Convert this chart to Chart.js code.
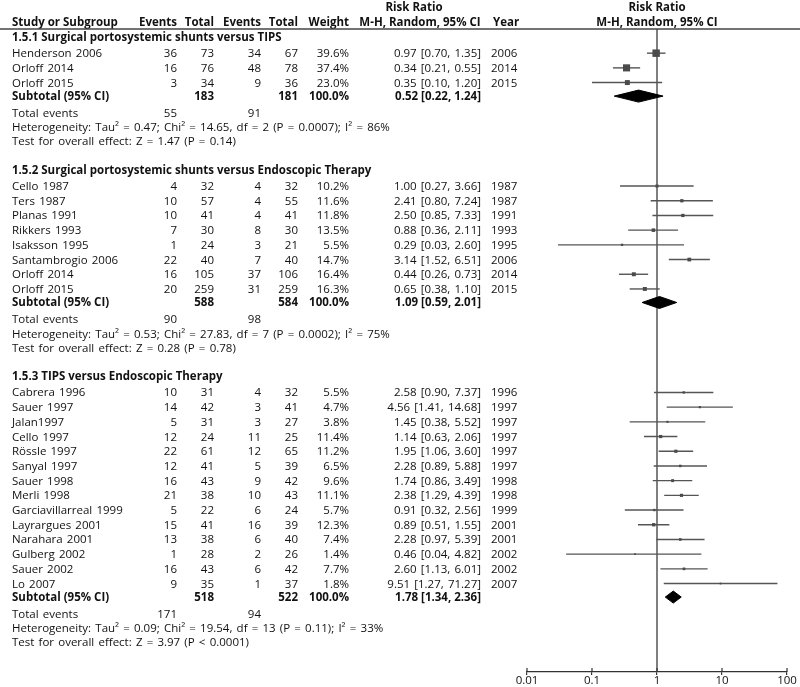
<!DOCTYPE html>
<html>
<head>
<meta charset="utf-8">
<script src="https://cdn.jsdelivr.net/npm/chart.js@4.4.1/dist/chart.umd.min.js"></script>
<style>
  html, body { margin: 0; padding: 0; background: #fff; }
</style>
</head>
<body>
<canvas id="forest" width="800" height="687"></canvas>
<script>
// ===== Data =====
const groupTitles = [
  "1.5.1 Surgical portosystemic shunts versus TIPS",
  "1.5.2 Surgical portosystemic shunts versus Endoscopic Therapy",
  "1.5.3 TIPS versus Endoscopic Therapy"
];

// 1.5.1
const g1Study = ["Henderson 2006", "Orloff 2014", "Orloff 2015"];
const g1EvA = [36, 16, 3];
const g1TotA = [73, 76, 34];
const g1EvB = [34, 48, 9];
const g1TotB = [67, 78, 36];
const g1Weight = [39.6, 37.4, 23.0];
const g1RR = [0.97, 0.34, 0.35];
const g1Lo = [0.70, 0.21, 0.10];
const g1Hi = [1.35, 0.55, 1.20];
const g1Year = [2006, 2014, 2015];

// 1.5.2
const g2Study = ["Cello 1987", "Ters 1987", "Planas 1991", "Rikkers 1993", "Isaksson 1995",
  "Santambrogio 2006", "Orloff 2014", "Orloff 2015"];
const g2EvA = [4, 10, 10, 7, 1, 22, 16, 20];
const g2TotA = [32, 57, 41, 30, 24, 40, 105, 259];
const g2EvB = [4, 4, 4, 8, 3, 7, 37, 31];
const g2TotB = [32, 55, 41, 30, 21, 40, 106, 259];
const g2Weight = [10.2, 11.6, 11.8, 13.5, 5.5, 14.7, 16.4, 16.3];
const g2RR = [1.00, 2.41, 2.50, 0.88, 0.29, 3.14, 0.44, 0.65];
const g2Lo = [0.27, 0.80, 0.85, 0.36, 0.03, 1.52, 0.26, 0.38];
const g2Hi = [3.66, 7.24, 7.33, 2.11, 2.60, 6.51, 0.73, 1.10];
const g2Year = [1987, 1987, 1991, 1993, 1995, 2006, 2014, 2015];

// 1.5.3
const g3Study = ["Cabrera 1996", "Sauer 1997", "Jalan1997", "Cello 1997", "Rössle 1997",
  "Sanyal 1997", "Sauer 1998", "Merli 1998", "Garciavillarreal 1999", "Layrargues 2001",
  "Narahara 2001", "Gulberg 2002", "Sauer 2002", "Lo 2007"];
const g3EvA = [10, 14, 5, 12, 22, 12, 16, 21, 5, 15, 13, 1, 16, 9];
const g3TotA = [31, 42, 31, 24, 61, 41, 43, 38, 22, 41, 38, 28, 43, 35];
const g3EvB = [4, 3, 3, 11, 12, 5, 9, 10, 6, 16, 6, 2, 6, 1];
const g3TotB = [32, 41, 27, 25, 65, 39, 42, 43, 24, 39, 40, 26, 42, 37];
const g3Weight = [5.5, 4.7, 3.8, 11.4, 11.2, 6.5, 9.6, 11.1, 5.7, 12.3, 7.4, 1.4, 7.7, 1.8];
const g3RR = [2.58, 4.56, 1.45, 1.14, 1.95, 2.28, 1.74, 2.38, 0.91, 0.89, 2.28, 0.46, 2.60, 9.51];
const g3Lo = [0.90, 1.41, 0.38, 0.63, 1.06, 0.89, 0.86, 1.29, 0.32, 0.51, 0.97, 0.04, 1.13, 1.27];
const g3Hi = [7.37, 14.68, 5.52, 2.06, 3.60, 5.88, 3.49, 4.39, 2.56, 1.55, 5.39, 4.82, 6.01, 71.27];
const g3Year = [1996, 1997, 1997, 1997, 1997, 1997, 1998, 1998, 1999, 2001, 2001, 2002, 2002, 2007];

// subtotals, one entry per subgroup
const subTotA = [183, 588, 518];
const subTotB = [181, 584, 522];
const subRR = [0.52, 1.09, 1.78];
const subLo = [0.22, 0.59, 1.34];
const subHi = [1.24, 2.01, 2.36];
const totEvA = [55, 90, 171];
const totEvB = [91, 98, 94];
const tau2 = ["0.47", "0.53", "0.09"];
const chi2 = ["14.65", "27.83", "19.54"];
const hetDf = [2, 7, 13];
const hetP = ["= 0.0007", "= 0.0002", "= 0.11"];
const iSq = [86, 75, 33];
const zVal = ["1.47", "0.28", "3.97"];
const zP = ["= 0.14", "= 0.78", "< 0.0001"];

const axisTicks = [0.01, 0.1, 1, 10, 100];

// ===== Layout (rows) =====
const groups = [
  { study: g1Study, evA: g1EvA, totA: g1TotA, evB: g1EvB, totB: g1TotB, w: g1Weight, rr: g1RR, lo: g1Lo, hi: g1Hi, yr: g1Year },
  { study: g2Study, evA: g2EvA, totA: g2TotA, evB: g2EvB, totB: g2TotB, w: g2Weight, rr: g2RR, lo: g2Lo, hi: g2Hi, yr: g2Year },
  { study: g3Study, evA: g3EvA, totA: g3TotA, evB: g3EvB, totB: g3TotB, w: g3Weight, rr: g3RR, lo: g3Lo, hi: g3Hi, yr: g3Year }
];

const ROW = 14.7;
const Y_TOP = 29, Y_BOTTOM = 672;   // header rule and axis
let cur = 37;
groups.forEach((g, gi) => {
  if (gi > 0) cur += ROW * 1.95;
  g.headY = cur;
  cur += ROW * 1.1;
  g.rowY = g.study.map((s, i) => {
    const v = cur;
    if (i < g.study.length - 1) cur += ROW;
    return v;
  });
  cur += ROW * 0.92; g.subY = cur;
  cur += ROW * 1.12; g.totY = cur;
  cur += ROW; g.hetY = cur;
  cur += ROW * 0.95; g.testY = cur;
});

const fmt2 = v => v.toFixed(2);
const rrText = (r, l, h) => `${fmt2(r)} [${fmt2(l)}, ${fmt2(h)}]`;

// ===== Datasets =====
const datasets = [];

// squares (on top)
groups.forEach(g => {
  datasets.push({
    data: g.rr.map((v, i) => ({ x: v, y: g.rowY[i] })),
    pointStyle: "rect",
    pointRadius: g.w.map(w => (1.5 + 0.15 * w) / 1.414),
    pointBackgroundColor: "#4a4a4a",
    pointBorderWidth: 0,
    showLine: false
  });
});

// diamonds
groups.forEach((g, gi) => {
  const y = g.subY;
  datasets.push({
    data: [
      { x: subLo[gi], y: y }, { x: subRR[gi], y: y - 6 },
      { x: subHi[gi], y: y }, { x: subRR[gi], y: y + 6 }, { x: subLo[gi], y: y }
    ],
    showLine: true,
    fill: "shape",
    borderColor: "#000",
    backgroundColor: "#000",
    borderWidth: 1,
    pointRadius: 0,
    tension: 0
  });
});

// confidence intervals
groups.forEach(g => {
  g.rr.forEach((v, i) => {
    datasets.push({
      data: [{ x: g.lo[i], y: g.rowY[i] }, { x: g.hi[i], y: g.rowY[i] }],
      showLine: true,
      borderColor: "#555",
      borderWidth: 1.4,
      pointRadius: 0
    });
  });
});

// line of no effect
datasets.push({
  data: [{ x: 1, y: Y_TOP }, { x: 1, y: Y_BOTTOM }],
  showLine: true,
  borderColor: "#555",
  borderWidth: 1.5,
  pointRadius: 0
});

// ===== Table text plugin =====
const FONT = '"Open Sans", sans-serif';
const FS = 11.5, FS_BOLD = 11.5;
const COL = { name: 12, evA: 177, totA: 214, evB: 261, totB: 298, w: 349, rr: 481, rrHead: 414, mhHead: 420, yr: 491 };

const tablePlugin = {
  id: "forestTable",
  afterDraw(chart) {
    const ctx = chart.ctx;
    const Y = v => chart.scales.y.getPixelForValue(v);
    const xs = chart.scales.x;
    const mid = xs.getPixelForValue(1);
    const put = (txt, x, y, align, bold) => {
      ctx.font = (bold ? "bold " + FS_BOLD : FS) + "px " + FONT;
      ctx.wordSpacing = bold ? "0px" : "1.2px";
      ctx.textAlign = align;
      ctx.fillText(String(txt), x, Y(y) + 4);
    };
    ctx.save();
    ctx.fillStyle = "#111";
    ctx.textBaseline = "alphabetic";

    // header
    put("Risk Ratio", COL.rrHead, 7, "center", true);
    put("Risk Ratio", mid, 7, "center", true);
    put("Study or Subgroup", COL.name, 22, "left", true);
    put("Events", COL.evA, 22, "right", true);
    put("Total", COL.totA, 22, "right", true);
    put("Events", COL.evB, 22, "right", true);
    put("Total", COL.totB, 22, "right", true);
    put("Weight", COL.w, 22, "right", true);
    put("M-H, Random, 95% CI", COL.mhHead, 22, "center", true);
    put("Year", COL.yr + 2, 22, "left", true);
    put("M-H, Random, 95% CI", mid, 22, "center", true);

    ctx.strokeStyle = "#444";
    ctx.lineWidth = 1.5;
    ctx.beginPath();
    ctx.moveTo(0, chart.chartArea.top);
    ctx.lineTo(chart.width, chart.chartArea.top);
    ctx.stroke();

    // upper half of the axis ticks
    ctx.strokeStyle = "#333";
    ctx.lineWidth = 1.2;
    const ab = chart.chartArea.bottom;
    axisTicks.forEach(t => {
      const px = xs.getPixelForValue(t);
      ctx.beginPath();
      ctx.moveTo(px, ab - 4);
      ctx.lineTo(px, ab);
      ctx.stroke();
    });

    groups.forEach((g, gi) => {
      put(groupTitles[gi], COL.name, g.headY, "left", true);
      g.study.forEach((s, i) => {
        const y = g.rowY[i];
        put(s, COL.name, y, "left");
        put(g.evA[i], COL.evA, y, "right");
        put(g.totA[i], COL.totA, y, "right");
        put(g.evB[i], COL.evB, y, "right");
        put(g.totB[i], COL.totB, y, "right");
        put(g.w[i].toFixed(1) + "%", COL.w, y, "right");
        put(rrText(g.rr[i], g.lo[i], g.hi[i]), COL.rr, y, "right");
        put(g.yr[i], COL.yr, y, "left");
      });
      put("Subtotal (95% CI)", COL.name, g.subY, "left", true);
      put(subTotA[gi], COL.totA, g.subY, "right", true);
      put(subTotB[gi], COL.totB, g.subY, "right", true);
      put("100.0%", COL.w, g.subY, "right", true);
      put(rrText(subRR[gi], subLo[gi], subHi[gi]), COL.rr, g.subY, "right", true);

      put("Total events", COL.name, g.totY, "left");
      put(totEvA[gi], COL.evA, g.totY, "right");
      put(totEvB[gi], COL.evB, g.totY, "right");
      put(`Heterogeneity: Tau² = ${tau2[gi]}; Chi² = ${chi2[gi]}, df = ${hetDf[gi]} (P ${hetP[gi]}); I² = ${iSq[gi]}%`,
        COL.name, g.hetY, "left");
      put(`Test for overall effect: Z = ${zVal[gi]} (P ${zP[gi]})`, COL.name, g.testY, "left");
    });
    ctx.restore();
  }
};

// ===== Chart =====
new Chart(document.getElementById("forest"), {
  type: "scatter",
  data: { datasets },
  options: {
    responsive: false,
    animation: false,
    layout: { padding: { left: 527, right: 13, top: Y_TOP, bottom: 0 } },
    plugins: { legend: { display: false }, tooltip: { enabled: false } },
    scales: {
      x: {
        type: "logarithmic",
        min: 0.01,
        max: 100,
        afterBuildTicks: s => { s.ticks = axisTicks.map(v => ({ value: v, major: true })); },
        afterFit: s => { s.height = 687 - Y_BOTTOM; },
        ticks: {
          autoSkip: false,
          maxRotation: 0,
          padding: -1,
          color: "#111",
          font: { family: FONT, size: FS },
          callback: v => String(v)
        },
        grid: { drawOnChartArea: false, drawTicks: true, tickLength: 3, color: "#333", lineWidth: 1.2 },
        border: { display: true, color: "#333", width: 1.2 }
      },
      y: {
        display: false,
        reverse: true,
        min: Y_TOP,
        max: Y_BOTTOM
      }
    }
  },
  plugins: [tablePlugin]
});
</script>
</body>
</html>
